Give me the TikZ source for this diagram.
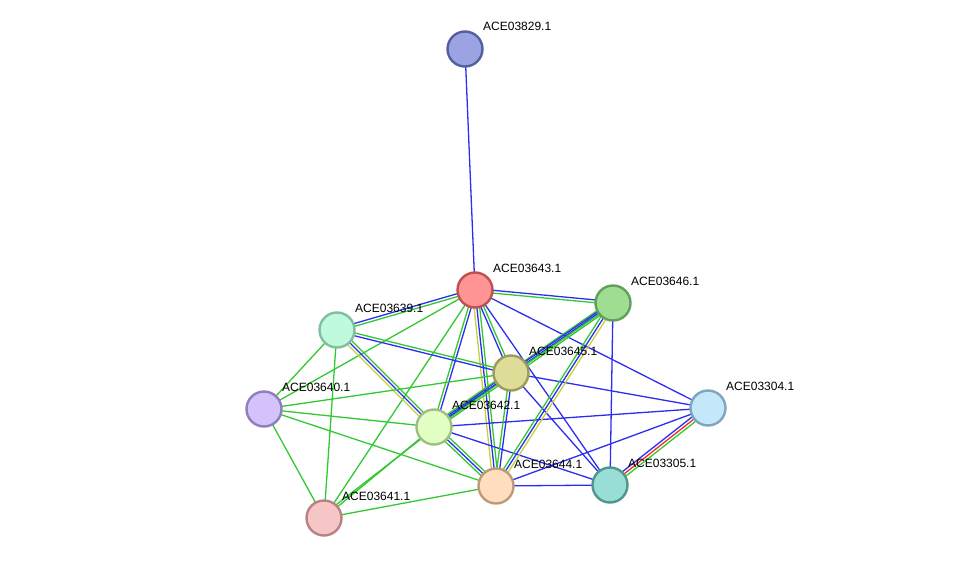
\documentclass[tikz,border=0pt]{standalone}
\usepackage{fontspec}
\setmainfont{Liberation Sans}
\usetikzlibrary{calc}
\pgfdeclarelayer{background}
\pgfsetlayers{background,main}
\definecolor{eg}{RGB}{50,200,50}
\definecolor{eb}{RGB}{45,45,240}
\definecolor{ey}{RGB}{195,210,60}
\definecolor{er}{RGB}{240,45,45}
\tikzset{
  prot/.style={circle,line width=2.4pt,minimum size=35pt,inner sep=0pt},
  lbl/.style={anchor=base west,inner sep=0pt,font=\fontsize{12}{14}\selectfont},
  ed/.style={line width=1.3pt}
}
\newcommand\eone[3]{\draw[ed,#3] (#1.center) -- (#2.center);}
\newcommand\eoff[4]{\draw[ed,#4] ($(#1.center)!#3!90:(#2.center)$) -- ($(#2.center)!#3!-90:(#1.center)$);}
\newcommand\etwo[4]{\eoff{#1}{#2}{-1.4pt}{#3}\eoff{#1}{#2}{1.4pt}{#4}}
\newcommand\ethree[5]{\eoff{#1}{#2}{-2.8pt}{#3}\eoff{#1}{#2}{0pt}{#4}\eoff{#1}{#2}{2.8pt}{#5}}
\begin{document}
\begin{tikzpicture}[x=1pt,y=-1pt]
\useasboundingbox (0,0) rectangle (976,564);
% nodes
\node[prot,draw={rgb,255:red,85;green,95;blue,160},fill={rgb,255:red,155;green,163;blue,226}] (n829) at (465,49) {};
\node[prot,draw={rgb,255:red,190;green,80;blue,80},fill={rgb,255:red,254;green,148;blue,148}] (n643) at (475,290) {};
\node[prot,draw={rgb,255:red,95;green,160;blue,90},fill={rgb,255:red,157;green,222;blue,147}] (n646) at (613,303) {};
\node[prot,draw={rgb,255:red,130;green,190;blue,160},fill={rgb,255:red,192;green,250;blue,220}] (n639) at (337,330) {};
\node[prot,draw={rgb,255:red,155;green,155;blue,90},fill={rgb,255:red,221;green,221;blue,152}] (n645) at (511,373) {};
\node[prot,draw={rgb,255:red,145;green,125;blue,190},fill={rgb,255:red,211;green,195;blue,250}] (n640) at (264,409) {};
\node[prot,draw={rgb,255:red,160;green,190;blue,130},fill={rgb,255:red,226;green,255;blue,196}] (n642) at (434,427) {};
\node[prot,draw={rgb,255:red,125;green,165;blue,190},fill={rgb,255:red,196;green,232;blue,250}] (n304) at (708,408) {};
\node[prot,draw={rgb,255:red,190;green,155;blue,120},fill={rgb,255:red,255;green,222;blue,192}] (n644) at (496,486) {};
\node[prot,draw={rgb,255:red,80;green,150;blue,140},fill={rgb,255:red,152;green,222;blue,212}] (n305) at (610,485) {};
\node[prot,draw={rgb,255:red,185;green,130;blue,130},fill={rgb,255:red,246;green,198;blue,198}] (n641) at (324,518) {};
% labels
\node[lbl] (l829) at ($(n829)+(18,-18)$) {ACE03829.1};
\node[lbl] (l643) at ($(n643)+(18,-18)$) {ACE03643.1};
\node[lbl] (l646) at ($(n646)+(18,-18)$) {ACE03646.1};
\node[lbl] (l639) at ($(n639)+(18,-18)$) {ACE03639.1};
\node[lbl] (l645) at ($(n645)+(18,-18)$) {ACE03645.1};
\node[lbl] (l640) at ($(n640)+(18,-18)$) {ACE03640.1};
\node[lbl] (l642) at ($(n642)+(18,-18)$) {ACE03642.1};
\node[lbl] (l304) at ($(n304)+(18,-18)$) {ACE03304.1};
\node[lbl] (l644) at ($(n644)+(18,-18)$) {ACE03644.1};
\node[lbl] (l305) at ($(n305)+(18,-18)$) {ACE03305.1};
\node[lbl] (l641) at ($(n641)+(18,-18)$) {ACE03641.1};
% edges
\begin{pgfonlayer}{background}
\eone{n829}{n643}{eb}
\etwo{n643}{n646}{eg}{eb}
\etwo{n643}{n639}{eb}{eg}
\eone{n643}{n640}{eg}
\eone{n643}{n641}{eg}
\etwo{n643}{n642}{eg}{eb}
\etwo{n643}{n645}{eb}{eg}
\ethree{n643}{n644}{ey}{eb}{eg}
\eone{n643}{n305}{eb}
\eone{n643}{n304}{eb}
\ethree{n639}{n642}{ey}{eb}{eg}
\etwo{n639}{n645}{eb}{eg}
\eone{n639}{n640}{eg}
\eone{n639}{n641}{eg}
\eone{n640}{n645}{eg}
\eone{n640}{n642}{eg}
\eone{n640}{n644}{eg}
\eone{n640}{n641}{eg}
\eone{n641}{n642}{eg}
\eoff{n641}{n645}{3pt}{eg}
\eone{n641}{n644}{eg}
\etwo{n642}{n645}{eg}{eb}
\ethree{n642}{n646}{eg}{eb}{eg}
\etwo{n645}{n646}{eg}{eb}
\eone{n642}{n304}{eb}
\eone{n642}{n305}{eb}
\ethree{n642}{n644}{eg}{eb}{eg}
\etwo{n645}{n644}{eg}{eb}
\eone{n645}{n304}{eb}
\eone{n645}{n305}{eb}
\ethree{n646}{n644}{eg}{eb}{ey}
\eone{n646}{n305}{eb}
\eone{n644}{n305}{eb}
\eone{n644}{n304}{eb}
\ethree{n304}{n305}{eb}{er}{eg}
\end{pgfonlayer}
\end{tikzpicture}
\end{document}
